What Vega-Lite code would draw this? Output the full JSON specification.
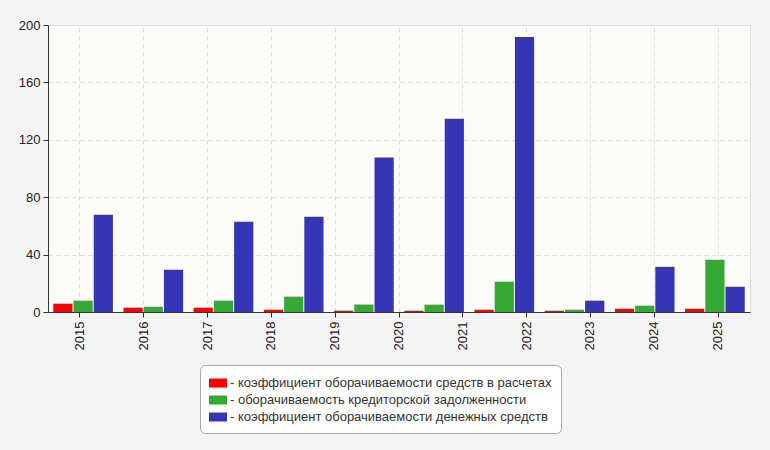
{
  "$schema": "https://vega.github.io/schema/vega-lite/v6.json",
  "description": "Turnover ratios by period",
  "autosize": "none",
  "width": 702,
  "height": 287,
  "padding": {"left": 48, "top": 25, "right": 20, "bottom": 138},
  "background": "#f4f4f4",
  "config": {
    "font": "Liberation Sans",
    "view": {"fill": "#fbfbf7", "stroke": "#dddddd"},
    "axis": {
      "labelFontSize": 13,
      "labelColor": "#222222",
      "domainColor": "#333333",
      "tickColor": "#333333",
      "gridColor": "#dddddd",
      "gridDash": [4, 4]
    }
  },
  "datasets": {
    "years": [
      {"year": "2015"}, {"year": "2016"}, {"year": "2017"}, {"year": "2018"},
      {"year": "2019"}, {"year": "2020"}, {"year": "2021"}, {"year": "2022"},
      {"year": "2023"}, {"year": "2024"}, {"year": "2025"}
    ],
    "bars": [
      {"period": 1, "series": "коэффициент оборачиваемости средств в расчетах", "value": 5.8},
      {"period": 1, "series": "оборачиваемость кредиторской задолженности", "value": 7.9},
      {"period": 1, "series": "коэффициент оборачиваемости денежных средств", "value": 67.7},
      {"period": 2, "series": "коэффициент оборачиваемости средств в расчетах", "value": 3.0},
      {"period": 2, "series": "оборачиваемость кредиторской задолженности", "value": 3.7},
      {"period": 2, "series": "коэффициент оборачиваемости денежных средств", "value": 29.5},
      {"period": 3, "series": "коэффициент оборачиваемости средств в расчетах", "value": 3.0},
      {"period": 3, "series": "оборачиваемость кредиторской задолженности", "value": 7.9},
      {"period": 3, "series": "коэффициент оборачиваемости денежных средств", "value": 62.9},
      {"period": 4, "series": "коэффициент оборачиваемости средств в расчетах", "value": 1.6},
      {"period": 4, "series": "оборачиваемость кредиторской задолженности", "value": 10.7},
      {"period": 4, "series": "коэффициент оборачиваемости денежных средств", "value": 66.3},
      {"period": 5, "series": "коэффициент оборачиваемости средств в расчетах", "value": 0.9},
      {"period": 5, "series": "оборачиваемость кредиторской задолженности", "value": 5.2},
      {"period": 5, "series": "коэффициент оборачиваемости денежных средств", "value": 107.6},
      {"period": 6, "series": "коэффициент оборачиваемости средств в расчетах", "value": 0.9},
      {"period": 6, "series": "оборачиваемость кредиторской задолженности", "value": 5.1},
      {"period": 6, "series": "коэффициент оборачиваемости денежных средств", "value": 134.6},
      {"period": 7, "series": "коэффициент оборачиваемости средств в расчетах", "value": 1.6},
      {"period": 7, "series": "оборачиваемость кредиторской задолженности", "value": 21.1},
      {"period": 7, "series": "коэффициент оборачиваемости денежных средств", "value": 191.6},
      {"period": 8, "series": "коэффициент оборачиваемости средств в расчетах", "value": 0.9},
      {"period": 8, "series": "оборачиваемость кредиторской задолженности", "value": 1.6},
      {"period": 8, "series": "коэффициент оборачиваемости денежных средств", "value": 7.9},
      {"period": 9, "series": "коэффициент оборачиваемости средств в расчетах", "value": 2.3},
      {"period": 9, "series": "оборачиваемость кредиторской задолженности", "value": 4.4},
      {"period": 9, "series": "коэффициент оборачиваемости денежных средств", "value": 31.5},
      {"period": 10, "series": "коэффициент оборачиваемости средств в расчетах", "value": 2.3},
      {"period": 10, "series": "оборачиваемость кредиторской задолженности", "value": 36.4},
      {"period": 10, "series": "коэффициент оборачиваемости денежных средств", "value": 17.6}
    ]
  },
  "layer": [
    {
      "data": {"name": "years"},
      "mark": {"type": "rule", "opacity": 0},
      "encoding": {
        "x": {
          "field": "year",
          "type": "ordinal",
          "title": null,
          "axis": {
            "labelAngle": -90,
            "grid": true,
            "bandPosition": 0.5,
            "tickSize": 5,
            "labelPadding": 4
          }
        }
      }
    },
    {
      "data": {"name": "bars"},
      "mark": {"type": "bar"},
      "encoding": {
        "x": {
          "field": "period",
          "type": "ordinal",
          "axis": null,
          "scale": {"paddingInner": 0.15, "paddingOuter": 0.075}
        },
        "xOffset": {
          "field": "series",
          "type": "nominal",
          "sort": [
            "коэффициент оборачиваемости средств в расчетах",
            "оборачиваемость кредиторской задолженности",
            "коэффициент оборачиваемости денежных средств"
          ],
          "scale": {"paddingInner": 0.05}
        },
        "y": {
          "field": "value",
          "type": "quantitative",
          "title": null,
          "scale": {"domain": [0, 200]},
          "axis": {"values": [0, 40, 80, 120, 160, 200], "tickSize": 5, "labelPadding": 3}
        },
        "color": {
          "field": "series",
          "type": "nominal",
          "scale": {
            "domain": [
              "коэффициент оборачиваемости средств в расчетах",
              "оборачиваемость кредиторской задолженности",
              "коэффициент оборачиваемости денежных средств"
            ],
            "range": ["#ff0000", "#34aa34", "#3535b5"]
          },
          "legend": {
            "title": null,
            "orient": "none",
            "legendX": 152,
            "legendY": 340,
            "direction": "vertical",
            "fillColor": "#ffffff",
            "strokeColor": "#aaaaaa",
            "cornerRadius": 5,
            "padding": 9,
            "labelFontSize": 13,
            "labelColor": "#333333",
            "labelOffset": 3,
            "rowPadding": 1,
            "symbolType": "M-1,-0.5H1V0.5H-1Z",
            "symbolSize": 324,
            "symbolStrokeWidth": 0,
            "symbolOpacity": 1,
            "labelExpr": "'- ' + datum.label",
            "labelLimit": 400
          }
        }
      }
    }
  ],
  "resolve": {"scale": {"x": "independent"}}
}
